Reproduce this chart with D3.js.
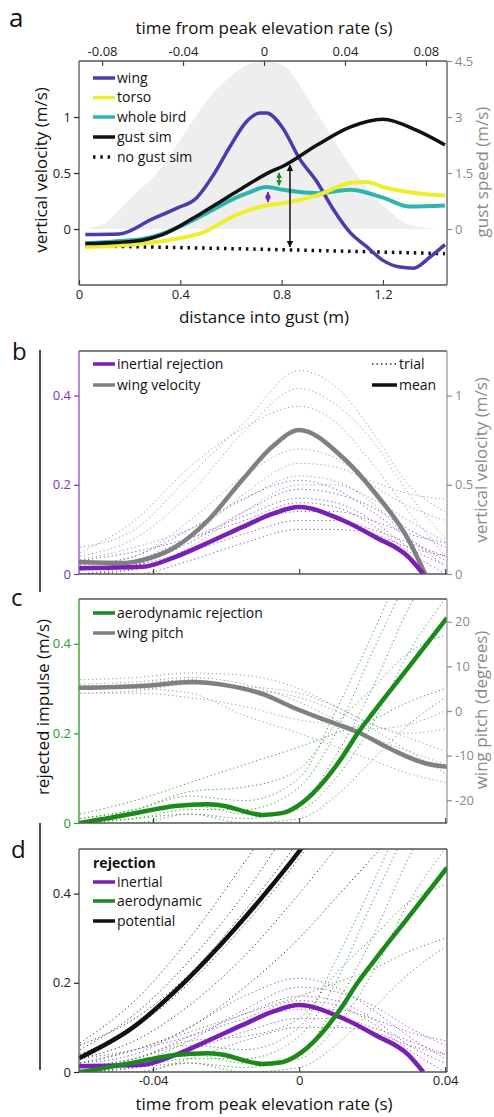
<!DOCTYPE html>
<html>
<head>
<meta charset="utf-8">
<script src="https://cdn.jsdelivr.net/npm/d3@7"></script>
<style>
  body { margin: 0; background: #fff; }
  svg { font-family: "Open Sans", sans-serif; }
</style>
</head>
<body>
<div id="chart"></div>
<script>
// ---------- panel a: distance into gust (m) ----------
const gustD = [0.02, 0.1, 0.2, 0.32, 0.42, 0.5, 0.6, 0.67, 0.73, 0.8, 0.94, 1.07, 1.2, 1.31, 1.43];
const gustS = [0, 0.15, 0.8, 1.6, 2.6, 3.4, 4.1, 4.42, 4.5, 4.4, 3.1, 1.7, 0.64, 0.1, 0];

const wingD = [0.025, 0.16, 0.29, 0.38, 0.465, 0.53, 0.6, 0.66, 0.715, 0.74, 0.805, 0.87, 0.94, 1.0, 1.07, 1.137, 1.2, 1.267, 1.32, 1.386, 1.445];
const wingV = [-0.05, -0.045, 0.09, 0.18, 0.28, 0.48, 0.75, 0.955, 1.035, 1.035, 0.9, 0.63, 0.42, 0.19, -0.03, -0.16, -0.28, -0.34, -0.35, -0.25, -0.14];

const torsoD = [0.025, 0.2, 0.35, 0.49, 0.62, 0.74, 0.805, 0.94, 1.07, 1.137, 1.2, 1.334, 1.445];
const torsoV = [-0.16, -0.14, -0.1, -0.03, 0.125, 0.21, 0.23, 0.30, 0.41, 0.42, 0.375, 0.32, 0.30];

const birdD = [0.025, 0.15, 0.25, 0.32, 0.49, 0.62, 0.675, 0.74, 0.805, 0.87, 0.94, 1.07, 1.2, 1.307, 1.445];
const birdV = [-0.13, -0.11, -0.09, -0.05, 0.125, 0.28, 0.33, 0.375, 0.35, 0.33, 0.32, 0.35, 0.28, 0.2, 0.21];

const simD = [0.025, 0.15, 0.25, 0.33, 0.49, 0.62, 0.755, 0.805, 0.94, 1.07, 1.2, 1.334, 1.445];
const simV = [-0.13, -0.12, -0.1, -0.05, 0.15, 0.33, 0.51, 0.56, 0.75, 0.91, 0.98, 0.88, 0.75];

const noSimD = [0.025, 0.7, 1.445];
const noSimV = [-0.15, -0.18, -0.22];

// arrows: position (m), low and high ends (m/s)
const arrowD = [0.833, 0.79, 0.746];
const arrowLo = [-0.16, 0.39, 0.24];
const arrowHi = [0.57, 0.5, 0.33];

// ---------- panels b-d: time from peak elevation rate (s) ----------
const inertT = [-0.0603, -0.043, -0.034, -0.025, -0.0156, -0.007, 0, 0.0118, 0.0208, 0.03, 0.034];
const inertV = [0.013, 0.016, 0.038, 0.07, 0.105, 0.136, 0.15, 0.121, 0.083, 0.038, 0];

const wingVelT = [-0.0603, -0.0477, -0.043, -0.034, -0.025, -0.0156, -0.007, 0, 0.0118, 0.0208, 0.03, 0.0345];
const wingVelV = [0.067, 0.062, 0.078, 0.15, 0.30, 0.527, 0.72, 0.807, 0.656, 0.454, 0.19, 0];

const aeroT = [-0.0603, -0.052, -0.043, -0.034, -0.025, -0.0203, -0.0156, -0.0101, -0.0047, 0.0008, 0.0071, 0.0118, 0.016, 0.0208, 0.03, 0.0405];
const aeroV = [0, 0.011, 0.025, 0.038, 0.042, 0.038, 0.027, 0.018, 0.022, 0.045, 0.096, 0.147, 0.2, 0.252, 0.348, 0.458];

const pitchT = [-0.0603, -0.043, -0.0293, -0.0203, -0.0093, -0.002, 0.0071, 0.016, 0.0255, 0.0345, 0.0405];
const pitchV = [5.2, 5.6, 6.5, 5.8, 3.6, 0.9, -2, -4.7, -8.7, -11.7, -12.5];

const potT = [-0.0603, -0.0455, -0.0318, -0.018, -0.0088, 0, 0.004];
const potV = [0.031, 0.10, 0.198, 0.317, 0.405, 0.495, 0.54];

// individual trials, all on the same time grid
const trialT = [-0.06, -0.045, -0.03, -0.015, 0, 0.01, 0.02, 0.03, 0.04];
const wingVelTrials = [
  [0.15, 0.25, 0.55, 0.85, 1.14, 1.05, 0.8, 0.5, 0.35],
  [0.1, 0.2, 0.45, 0.8, 1.04, 0.95, 0.75, 0.45, 0.2],
  [0.12, 0.3, 0.6, 0.82, 0.94, 0.85, 0.62, 0.35, 0.1],
  [0.05, 0.1, 0.3, 0.55, 0.7, 0.65, 0.5, 0.38, 0.3],
  [0.02, 0.05, 0.2, 0.45, 0.62, 0.6, 0.52, 0.45, 0.42],
  [0.08, 0.15, 0.25, 0.42, 0.55, 0.52, 0.4, 0.2, 0.05],
  [0.0, 0.03, 0.15, 0.35, 0.5, 0.5, 0.42, 0.3, 0.18]
];
const inertTrials = [
  [0.02, 0.04, 0.1, 0.17, 0.21, 0.19, 0.14, 0.08, 0.03],
  [0.0, 0.02, 0.07, 0.14, 0.19, 0.18, 0.15, 0.1, 0.06],
  [0.01, 0.03, 0.08, 0.13, 0.17, 0.16, 0.12, 0.06, 0.02],
  [0.0, 0.01, 0.05, 0.11, 0.14, 0.14, 0.12, 0.09, 0.07],
  [0.01, 0.02, 0.05, 0.09, 0.12, 0.12, 0.1, 0.07, 0.04],
  [0.0, 0.0, 0.03, 0.07, 0.1, 0.1, 0.09, 0.06, 0.04],
  [0.03, 0.05, 0.08, 0.12, 0.16, 0.15, 0.11, 0.05, 0.0]
];
const pitchTrials = [
  [7, 7.5, 8.5, 8, 5, 1, -3, -6, -9],
  [6, 6.5, 7.5, 6, 2, -2, -6, -9, -12],
  [5, 5, 4, -1, -5, -8, -11, -14, -16],
  [4, 4, 3, 1, -2, -3, -4, -3, 0],
  [5, 6, 7, 5, 3, 0, -4, -9, -14],
  [4, 4.5, 6, 5.5, 4, 1, -3, -5, -4]
];
const aeroTrials = [
  [0.0, 0.01, 0.03, 0.03, 0.08, 0.2, 0.38, 0.55, 0.7],
  [0.01, 0.03, 0.06, 0.05, 0.1, 0.25, 0.42, 0.6, 0.75],
  [0.0, 0.02, 0.04, 0.02, 0.03, 0.1, 0.22, 0.38, 0.5],
  [0.02, 0.05, 0.09, 0.13, 0.17, 0.2, 0.23, 0.27, 0.3],
  [0.0, 0.0, 0.02, 0.0, 0.01, 0.06, 0.14, 0.22, 0.28],
  [0.01, 0.03, 0.07, 0.08, 0.12, 0.22, 0.3, 0.38, 0.42],
  [0.0, 0.01, 0.02, 0.01, 0.04, 0.15, 0.3, 0.48, 0.62]
];
const potTrials = [
  [0.065, 0.16, 0.3, 0.47, 0.65, 0.8, 0.9, 1, 1.1],
  [0.05, 0.13, 0.25, 0.4, 0.58, 0.7, 0.8, 0.9, 1],
  [0.04, 0.1, 0.2, 0.33, 0.48, 0.6, 0.7, 0.8, 0.9],
  [0.03, 0.07, 0.15, 0.26, 0.4, 0.5, 0.6, 0.7, 0.8],
  [0.02, 0.05, 0.1, 0.19, 0.3, 0.39, 0.48, 0.57, 0.66],
  [0.06, 0.12, 0.22, 0.36, 0.52, 0.64, 0.74, 0.84, 0.94]
];

// ---------- colours ----------
const cWing = "#4b3bae", cTorso = "#eeee2a", cBird = "#2db5ae";
const cPurple = "#7a1fb5", cGreen = "#1a8a1a", cGray = "#808080", cFrame = "#555";

const width = 494, height = 1117;
const L = 79, R = 447;

const svg = d3.select("#chart").append("svg")
  .attr("width", width).attr("height", height);

const zip = (xs, ys) => xs.map((x, i) => [x, ys[i]]);
const fmt = d => String(d);

function clip(id, top, bottom) {
  svg.append("clipPath").attr("id", id)
    .append("rect").attr("x", L).attr("y", top).attr("width", R - L).attr("height", bottom - top);
  return `url(#${id})`;
}

function drawLine(g, pts, x, y, color, w, dash) {
  const line = d3.line().x(d => x(d[0])).y(d => y(d[1])).curve(d3.curveMonotoneX);
  const p = g.append("path").datum(pts)
    .attr("d", line).attr("fill", "none")
    .attr("stroke", color).attr("stroke-width", w)
    .attr("stroke-linejoin", "round");
  if (dash) p.attr("stroke-dasharray", dash);
  return p;
}

function yAxis(gen, xPos, scale, ticks, color) {
  const g = svg.append("g").attr("transform", `translate(${xPos},0)`)
    .call(gen(scale).tickValues(ticks).tickFormat(fmt).tickSize(5).tickPadding(3));
  g.select(".domain").remove();
  g.selectAll("line").attr("stroke", color).attr("stroke-width", 1.2);
  g.selectAll("text").attr("fill", color).style("font-size", "13px")
    .style("font-family", "Open Sans");
  return g;
}

function xAxis(gen, yPos, scale, ticks, labels, pad) {
  const g = svg.append("g").attr("transform", `translate(0,${yPos})`)
    .call(gen(scale).tickValues(ticks).tickFormat(fmt).tickSizeInner(-5).tickSizeOuter(0).tickPadding(pad || 7));
  g.select(".domain").remove();
  g.selectAll("line").attr("stroke", "#444").attr("stroke-width", 1.2);
  g.selectAll("text").attr("fill", "#222").style("font-size", "13px")
    .style("font-family", "Open Sans");
  if (!labels) g.selectAll("text").remove();
  return g;
}

function frame(top, bottom, leftColor, rightColor) {
  svg.append("path").attr("fill", "none").attr("stroke", cFrame).attr("stroke-width", 1.3)
    .attr("d", `M${L},${top}H${R}M${L},${bottom}H${R}`);
  svg.append("line").attr("x1", L).attr("x2", L).attr("y1", top).attr("y2", bottom)
    .attr("stroke", leftColor).attr("stroke-width", 1.3);
  svg.append("line").attr("x1", R).attr("x2", R).attr("y1", top).attr("y2", bottom)
    .attr("stroke", rightColor).attr("stroke-width", 1.3);
}

function label(x, y, text, opts = {}) {
  const t = svg.append("text").attr("x", x).attr("y", y).text(text)
    .style("font-size", (opts.size || 14) + "px")
    .attr("fill", opts.color || "#111")
    .attr("text-anchor", opts.anchor || "start");
  if (opts.rotate) t.attr("transform", `rotate(-90,${x},${y})`);
  if (opts.bold) t.style("font-weight", "bold");
  if (opts.mid) t.attr("dy", "0.35em");
  return t;
}

function legendItem(y, text, color, w, dash) {
  const l = svg.append("line").attr("x1", 93).attr("x2", 115).attr("y1", y).attr("y2", y)
    .attr("stroke", color).attr("stroke-width", w);
  if (dash) l.attr("stroke-dasharray", dash);
  label(117, y, text, { mid: true });
}

// ================= panel a =================
const aTop = 61, aBot = 285;
const xA = d3.scaleLinear().domain([0, 1.453]).range([L, R]);
const tA = d3.scaleLinear().domain([-0.0914, 0.0904]).range([L, R]);
const yA = d3.scaleLinear().domain([-0.5, 1.5]).range([aBot, aTop]);
const gA = d3.scaleLinear().domain([-1.5, 4.5]).range([aBot, aTop]);

const gPa = svg.append("g").attr("clip-path", clip("clipA", aTop, aBot));
gPa.append("path").datum(zip(gustD, gustS))
  .attr("fill", "#eeeeee")
  .attr("d", d3.area().x(d => xA(d[0])).y0(gA(0)).y1(d => gA(d[1])).curve(d3.curveMonotoneX));

drawLine(gPa, zip(noSimD, noSimV), xA, yA, "#111", 3.5, "2.5,4.8");
drawLine(gPa, zip(wingD, wingV), xA, yA, cWing, 3.5);
drawLine(gPa, zip(birdD, birdV), xA, yA, cBird, 4);
drawLine(gPa, zip(torsoD, torsoV), xA, yA, cTorso, 4);
drawLine(gPa, zip(simD, simV), xA, yA, "#111", 3.5);

// arrows
const arrowColors = ["#111", cGreen, cPurple];
const defs = svg.append("defs");
arrowColors.forEach((c, i) => {
  const s = i === 0 ? 1 : 0.8;
  defs.append("marker").attr("id", "ah" + i).attr("viewBox", "0 0 10 10")
    .attr("refX", 9).attr("refY", 5).attr("markerUnits", "userSpaceOnUse")
    .attr("markerWidth", 7 * s).attr("markerHeight", 7 * s).attr("orient", "auto-start-reverse")
    .append("path").attr("d", "M0,0L10,5L0,10Z").attr("fill", c);
});
arrowD.forEach((d, i) => {
  svg.append("line")
    .attr("x1", xA(d)).attr("x2", xA(d))
    .attr("y1", yA(arrowLo[i])).attr("y2", yA(arrowHi[i]))
    .attr("stroke", arrowColors[i]).attr("stroke-width", i === 0 ? 1.5 : 1.6)
    .attr("marker-start", `url(#ah${i})`).attr("marker-end", `url(#ah${i})`);
});

frame(aTop, aBot, cFrame, cFrame);
yAxis(d3.axisLeft, L, yA, [0, 0.5, 1], "#222");
yAxis(d3.axisRight, R, gA, [0, 1.5, 3, 4.5], "#8a8a8a");
xAxis(d3.axisBottom, aBot, xA, [0, 0.4, 0.8, 1.2], true, 5);
xAxis(d3.axisTop, aTop, tA, [-0.08, -0.04, 0, 0.04, 0.08], true, 5);

label(264, 34, "time from peak elevation rate (s)", { size: 17, anchor: "middle" });
label(264, 323, "distance into gust (m)", { size: 17, anchor: "middle" });
label(47, 170, "vertical velocity (m/s)", { size: 17, anchor: "middle", rotate: true });
label(488, 172, "gust speed (m/s)", { size: 17, anchor: "middle", rotate: true, color: "#8a8a8a" });
label(9, 27, "a", { size: 26 });

legendItem(78, "wing", cWing, 3.5);
legendItem(97.5, "torso", cTorso, 3.5);
legendItem(117, "whole bird", cBird, 3.5);
legendItem(137, "gust sim", "#111", 3.5);
legendItem(157, "no gust sim", "#111", 3.5, "2.5,4.8");

// ================= shared time scale =================
const tB = d3.scaleLinear().domain([-0.0603, 0.0405]).range([L, R]);
const tTicks = [-0.04, 0, 0.04];

// ================= panel b =================
const bTop = 351, bBot = 574;
const yB = d3.scaleLinear().domain([0, 0.5]).range([bBot, bTop]);
const vB = d3.scaleLinear().domain([0, 1.25]).range([bBot, bTop]);
const gPb = svg.append("g").attr("clip-path", clip("clipB", bTop, bBot));
wingVelTrials.forEach(tr => drawLine(gPb, zip(trialT, tr), tB, vB, "#999", 1, "1.2,2.8"));
inertTrials.forEach(tr => drawLine(gPb, zip(trialT, tr), tB, yB, "#8e4cc4", 1, "1.2,2.8"));
drawLine(gPb, zip(wingVelT, wingVelV), tB, vB, cGray, 4.5);
drawLine(gPb, zip(inertT, inertV), tB, yB, cPurple, 4.5);

frame(bTop, bBot, "#8e4cc4", "#999");
yAxis(d3.axisLeft, L, yB, [0, 0.2, 0.4], "#7a33b8");
yAxis(d3.axisRight, R, vB, [0, 0.5, 1], "#8a8a8a");
xAxis(d3.axisBottom, bBot, tB, tTicks, false);
label(487, 460, "vertical velocity (m/s)", { size: 17, anchor: "middle", rotate: true, color: "#8a8a8a" });
label(12, 360, "b", { size: 24 });

legendItem(364, "inertial rejection", cPurple, 3.5);
legendItem(385, "wing velocity", cGray, 3.5);
svg.append("line").attr("x1", 372).attr("x2", 396).attr("y1", 364).attr("y2", 364)
  .attr("stroke", "#333").attr("stroke-width", 1.6).attr("stroke-dasharray", "1.5,3");
label(399, 364, "trial", { mid: true });
svg.append("line").attr("x1", 372).attr("x2", 397).attr("y1", 385).attr("y2", 385)
  .attr("stroke", "#111").attr("stroke-width", 3.5);
label(399, 385, "mean", { mid: true });

// ================= panel c =================
const cTop = 599, cBot = 823;
const yC = d3.scaleLinear().domain([0, 0.5]).range([cBot, cTop]);
const pC = d3.scaleLinear().domain([-25.1, 25.1]).range([cBot, cTop]);
const gPc = svg.append("g").attr("clip-path", clip("clipC", cTop, cBot));
pitchTrials.forEach(tr => drawLine(gPc, zip(trialT, tr), tB, pC, "#999", 1, "1.2,2.8"));
aeroTrials.forEach(tr => drawLine(gPc, zip(trialT, tr), tB, yC, "#3a9a3a", 1, "1.2,2.8"));
drawLine(gPc, zip(pitchT, pitchV), tB, pC, cGray, 4.5);
drawLine(gPc, zip(aeroT, aeroV), tB, yC, cGreen, 4.5);

frame(cTop, cBot, "#2a9a2a", "#999");
yAxis(d3.axisLeft, L, yC, [0, 0.2, 0.4], "#2a9a2a");
yAxis(d3.axisRight, R, pC, [-20, -10, 0, 10, 20], "#8a8a8a");
xAxis(d3.axisBottom, cBot, tB, tTicks, false);
label(487, 710, "wing pitch (degrees)", { size: 17, anchor: "middle", rotate: true, color: "#8a8a8a" });
label(11, 606, "c", { size: 24 });

legendItem(613, "aerodynamic rejection", cGreen, 3.5);
legendItem(633, "wing pitch", cGray, 3.5);

// ================= panel d =================
const dTop = 849, dBot = 1072;
const yD = d3.scaleLinear().domain([0, 0.5]).range([dBot, dTop]);
const gPd = svg.append("g").attr("clip-path", clip("clipD", dTop, dBot));
potTrials.forEach(tr => drawLine(gPd, zip(trialT, tr), tB, yD, "#333", 1, "1.2,2.8"));
aeroTrials.forEach(tr => drawLine(gPd, zip(trialT, tr), tB, yD, "#3a9a3a", 1, "1.2,2.8"));
inertTrials.forEach(tr => drawLine(gPd, zip(trialT, tr), tB, yD, "#8e4cc4", 1, "1.2,2.8"));
drawLine(gPd, zip(potT, potV), tB, yD, "#111", 4.5);
drawLine(gPd, zip(inertT, inertV), tB, yD, cPurple, 4.5);
drawLine(gPd, zip(aeroT, aeroV), tB, yD, cGreen, 4.5);

frame(dTop, dBot, cFrame, cFrame);
yAxis(d3.axisLeft, L, yD, [0, 0.2, 0.4], "#222");
xAxis(d3.axisBottom, dBot, tB, tTicks, true, 4);
label(264, 1110, "time from peak elevation rate (s)", { size: 17, anchor: "middle" });
label(11, 858, "d", { size: 24 });

label(93, 863, "rejection", { mid: true, bold: true });
legendItem(882, "inertial", cPurple, 3.5);
legendItem(901, "aerodynamic", cGreen, 3.5);
legendItem(921, "potential", "#111", 3.5);

// shared y label for b-d with bracket line
svg.append("path").attr("fill", "none").attr("stroke", "#111").attr("stroke-width", 1.5)
  .attr("d", "M40,350V592M40,823V1070");
label(49, 707, "rejected impulse (m/s)", { size: 17, anchor: "middle", rotate: true });
</script>
</body>
</html>
